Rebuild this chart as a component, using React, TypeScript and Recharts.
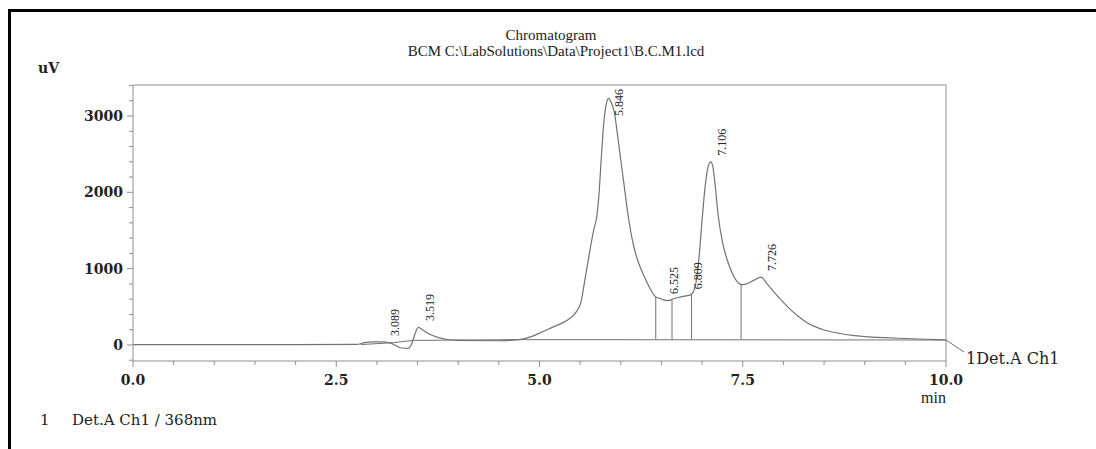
import React from 'react';
import { ComposedChart, Line, XAxis, YAxis, LabelList, ReferenceLine } from 'recharts';

const signalTimes = [0, 1, 2, 2.75, 2.85, 2.95, 3.05, 3.15, 3.22, 3.3, 3.38, 3.43, 3.47, 3.51, 3.56, 3.65, 3.75, 3.85, 4.0, 4.5, 4.75, 4.9, 5.05, 5.2, 5.35, 5.45, 5.51, 5.55, 5.59, 5.63, 5.67, 5.7, 5.73, 5.76, 5.79, 5.82, 5.85, 5.88, 5.92, 5.96, 6.0, 6.04, 6.08, 6.12, 6.16, 6.22, 6.29, 6.36, 6.43, 6.48, 6.525, 6.58, 6.65, 6.72, 6.78, 6.84, 6.88, 6.92, 6.96, 7.0, 7.04, 7.08, 7.106, 7.13, 7.16, 7.2, 7.25, 7.31, 7.38, 7.45, 7.5, 7.56, 7.64, 7.726, 7.8, 7.88, 7.98, 8.09, 8.19, 8.29, 8.39, 8.49, 8.6, 8.7, 8.85, 9.0, 9.25, 9.5, 9.75, 10.0];
const signalValues = [5, 5, 5, 8, 30, 40, 40, 30, 0, -40, -45, 20, 150, 230, 200, 140, 100, 75, 60, 55, 70, 110, 180, 250, 330, 430, 560, 800, 1050, 1300, 1520, 1650, 1950, 2450, 2900, 3150, 3230, 3180, 3050, 2750, 2420, 2100, 1770, 1500, 1290, 1070, 895, 740, 630, 610, 590, 580, 605, 625, 640, 650, 675, 790, 1120, 1640, 2100, 2360, 2400, 2350, 2100, 1680, 1350, 1110, 920, 810, 790, 805, 850, 890, 800, 700, 580, 460, 370, 290, 240, 200, 170, 150, 125, 110, 95, 85, 75, 65];

const baselineTimes = [2.8, 3.2, 3.45, 4.75, 10.0];
const baselineValues = [5, 30, 60, 70, 65];

const peakTimes = [3.089, 3.519, 5.846, 6.525, 6.809, 7.106, 7.726];
const peakHeights = [40, 235, 3230, 590, 650, 2400, 890];
const peakLabels = ['3.089', '3.519', '5.846', '6.525', '6.809', '7.106', '7.726'];

const dropTimes = [6.43, 6.63, 6.87, 7.48];
const dropTops = [630, 598, 670, 795];
const dropBottoms = [75, 75, 75, 75];

const xTicks = [0, 0.5, 1, 1.5, 2, 2.5, 3, 3.5, 4, 4.5, 5, 5.5, 6, 6.5, 7, 7.5, 8, 8.5, 9, 9.5, 10];
const xMajorTicks = [0, 2.5, 5, 7.5, 10];
const yTicks = [-200, 0, 200, 400, 600, 800, 1000, 1200, 1400, 1600, 1800, 2000, 2200, 2400, 2600, 2800, 3000, 3200, 3400];
const yMajorTicks = [0, 1000, 2000, 3000];

const X_DOMAIN: [number, number] = [0, 10];
const Y_DOMAIN: [number, number] = [-210, 3406];

const signalData = signalTimes.map((t, i) => ({ t, v: signalValues[i] }));
const baselineData = baselineTimes.map((t, i) => ({ t, v: baselineValues[i] }));
const peakData = peakTimes.map((t, i) => ({ t, v: peakHeights[i], label: peakLabels[i] }));

const FONT = '"Liberation Serif", "DejaVu Serif", serif';
const WIDE = '"DejaVu Serif", serif';
const AXIS = '#8f8f8f';
const CURVE = '#727272';
const TEXT = '#222';

const XTick = (props: any) => {
  const { x, y, payload } = props;
  const v = payload.value as number;
  const major = xMajorTicks.includes(v);
  return (
    <g>
      <line x1={x} x2={x} y1={y} y2={y + (major ? 6 : 4)} stroke={AXIS} strokeWidth={1} />
      {major && (
        <text x={x} y={y + 19} textAnchor="middle" dominantBaseline="central" fontFamily={WIDE} fontSize={14} fontWeight="bold" fill={TEXT}>
          {v.toFixed(1)}
        </text>
      )}
    </g>
  );
};

const YTick = (props: any) => {
  const { x, y, payload } = props;
  const v = payload.value as number;
  const major = yMajorTicks.includes(v);
  return (
    <g>
      <line x1={x} x2={x - (major ? 6 : 4)} y1={y} y2={y} stroke={AXIS} strokeWidth={1} />
      {major && (
        <text x={x - 10} y={y} textAnchor="end" dominantBaseline="central" fontFamily={WIDE} fontSize={14} fontWeight="bold" fill={TEXT}>
          {v}
        </text>
      )}
    </g>
  );
};

const PeakLabel = (props: any) => {
  const { x, y, value } = props;
  if (x == null || y == null) return null;
  const len = 28;
  const bx = x + 15;
  const by = Math.max(y - 6, 88 + len);
  return (
    <text x={bx} y={by} transform={`rotate(-90, ${bx}, ${by})`} textAnchor="start" fontFamily={FONT} fontSize={12} fill={TEXT}>
      {value}
    </text>
  );
};

const EndLabel = (props: any) => {
  const { x, y, index } = props;
  if (index !== signalData.length - 1) return null;
  return (
    <g>
      <line x1={x} y1={y} x2={x + 18} y2={y + 12} stroke={CURVE} strokeWidth={1} />
      <text x={x + 20} y={y + 18} dominantBaseline="central" fontFamily={WIDE} fontSize={16} fill={TEXT}>
        1Det.A Ch1
      </text>
    </g>
  );
};

const abs = (s: React.CSSProperties): React.CSSProperties => ({
  position: 'absolute',
  whiteSpace: 'nowrap',
  fontFamily: FONT,
  color: TEXT,
  lineHeight: 1,
  ...s,
});

export default function App() {
  return (
    <div style={{ position: 'absolute', left: 0, top: 0, width: 1096, height: 449, background: '#fff', overflow: 'hidden' }}>
      <div style={{ position: 'absolute', left: 8, top: 9, width: 1100, height: 450, borderTop: '3px solid #000', borderLeft: '3px solid #000' }} />
      <div style={abs({ left: 551, top: 35, transform: 'translate(-50%, -50%)', fontSize: 15 })}>Chromatogram</div>
      <div style={abs({ left: 556, top: 51, transform: 'translate(-50%, -50%)', fontSize: 15 })}>BCM C:\LabSolutions\Data\Project1\B.C.M1.lcd</div>
      <div style={abs({ left: 38, top: 68, transform: 'translateY(-50%)', fontFamily: WIDE, fontSize: 14, fontWeight: 'bold' })}>uV</div>
      <div style={abs({ left: 946, top: 398, transform: 'translate(-100%, -50%)', fontSize: 16 })}>min</div>
      <div style={abs({ left: 40, top: 420, transform: 'translateY(-50%)', fontFamily: WIDE, fontSize: 15 })}>1</div>
      <div style={abs({ left: 72, top: 420, transform: 'translateY(-50%)', fontFamily: WIDE, fontSize: 15 })}>Det.A Ch1 / 368nm</div>
      <div style={{ position: 'absolute', left: 0, top: 0 }}>
        <ComposedChart width={1096} height={449} margin={{ top: 85, right: 150, bottom: 58, left: 73 }}>
          <XAxis
            dataKey="t"
            type="number"
            domain={X_DOMAIN}
            ticks={xTicks}
            interval={0}
            allowDataOverflow
            height={30}
            axisLine={{ stroke: AXIS }}
            tickLine={false}
            tickSize={0}
            tickMargin={0}
            tick={<XTick />}
          />
          <YAxis
            type="number"
            domain={Y_DOMAIN}
            ticks={yTicks}
            interval={0}
            allowDataOverflow
            width={60}
            axisLine={{ stroke: AXIS }}
            tickLine={false}
            tickSize={0}
            tickMargin={0}
            tick={<YTick />}
          />
          <ReferenceLine y={Y_DOMAIN[1]} stroke={AXIS} />
          <ReferenceLine x={X_DOMAIN[1]} stroke={AXIS} />
          {dropTimes.map((t, i) => (
            <ReferenceLine key={t} segment={[{ x: t, y: dropBottoms[i] }, { x: t, y: dropTops[i] }]} stroke={CURVE} strokeWidth={1} />
          ))}
          <Line data={baselineData} dataKey="v" type="linear" stroke={CURVE} strokeWidth={1} dot={false} isAnimationActive={false} />
          <Line data={signalData} dataKey="v" type="monotone" stroke={CURVE} strokeWidth={1.2} dot={false} isAnimationActive={false}>
            <LabelList dataKey="v" content={<EndLabel />} />
          </Line>
          <Line data={peakData} dataKey="v" stroke="none" dot={false} activeDot={false} isAnimationActive={false}>
            <LabelList dataKey="label" content={<PeakLabel />} />
          </Line>
        </ComposedChart>
      </div>
    </div>
  );
}
